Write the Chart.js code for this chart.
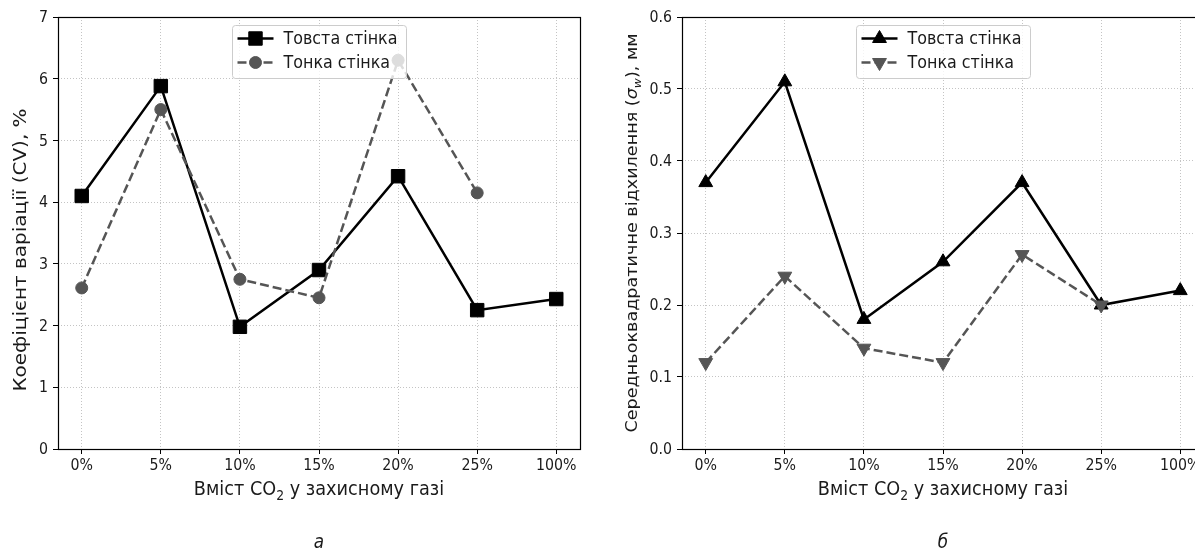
<!DOCTYPE html>
<html>
<head>
<meta charset="utf-8">
<script src="https://cdn.jsdelivr.net/npm/chart.js@4.4.0/dist/chart.umd.min.js"></script>
<style>
  html, body { margin: 0; padding: 0; background: #fff; }
  body { width: 1195px; height: 552px; overflow: hidden; position: relative; }
  #wrapA { position: absolute; left: 0; top: 0; }
  #wrapB { position: absolute; left: 600px; top: 0; }
</style>
</head>
<body>
<div id="wrapA"><canvas id="chartA" width="600" height="552"></canvas></div>
<div id="wrapB"><canvas id="chartB" width="620" height="552"></canvas></div>
<script>
// ---- data ----
const categories = ['0%', '5%', '10%', '15%', '20%', '25%', '100%'];
const seriesNames = ['Товста стінка', 'Тонка стінка'];
const cvThick = [4.1, 5.88, 1.98, 2.9, 4.42, 2.25, 2.43];
const cvThin = [2.61, 5.5, 2.75, 2.45, 6.3, 4.15, null];
const sdThick = [0.37, 0.51, 0.18, 0.26, 0.37, 0.20, 0.22];
const sdThin = [0.12, 0.24, 0.14, 0.12, 0.27, 0.20, null];
const cvTicks = [0, 1, 2, 3, 4, 5, 6, 7];
const sdTicks = [0, 0.1, 0.2, 0.3, 0.4, 0.5, 0.6];

const FONT = '"DejaVu Sans", sans-serif';
const SX = 0.885;          // the source figure is squeezed a bit horizontally
const INK = '#1a1a1a';
const GREY = '#555555';

function fontOf(p, size) {
  const s = p.sub ? size * 0.7 : size;
  return (p.it ? 'italic ' : '') + s.toFixed(1) + 'px ' + FONT;
}

// draws a run of text pieces (plain / italic / subscript), centred on x,y
function drawRich(ctx, parts, x, y, size, rotated) {
  ctx.save();
  ctx.translate(x, y);
  if (rotated) { ctx.rotate(-Math.PI / 2); ctx.scale(1, SX); }
  else ctx.scale(SX, 1);
  ctx.textBaseline = 'middle';
  ctx.textAlign = 'left';
  ctx.fillStyle = INK;
  let total = 0;
  parts.forEach(p => { ctx.font = fontOf(p, size); p.w = ctx.measureText(p.t).width; total += p.w; });
  let cx = -total / 2;
  parts.forEach(p => {
    ctx.font = fontOf(p, size);
    ctx.fillText(p.t, cx, p.sub ? size * 0.3 : 0);
    cx += p.w;
  });
  ctx.restore();
}

function drawLabel(ctx, s, x, y, size, align) {
  ctx.save();
  ctx.translate(x, y);
  ctx.scale(SX, 1);
  ctx.font = size + 'px ' + FONT;
  ctx.fillStyle = INK;
  ctx.textAlign = align;
  ctx.textBaseline = 'middle';
  ctx.fillText(s, 0, 0);
  ctx.restore();
}

const mplLook = {
  id: 'mplLook',
  afterDatasetsDraw(chart, args, o) {
    const { ctx, chartArea: a } = chart;
    const xs = chart.scales.x, ys = chart.scales.y;

    // axes frame
    ctx.save();
    ctx.strokeStyle = '#000';
    ctx.lineWidth = 1.2;
    ctx.strokeRect(Math.round(a.left) + 0.5, Math.round(a.top) + 0.5,
      Math.round(a.right - a.left), Math.round(a.bottom - a.top));
    ctx.restore();

    // tick labels
    xs.ticks.forEach(t => drawLabel(ctx, categories[t.value], xs.getPixelForValue(t.value), a.bottom + 17, 16, 'center'));
    ys.ticks.forEach(t => drawLabel(ctx, o.fmt(t.value), a.left - 10, ys.getPixelForValue(t.value) + 1, 16, 'right'));

    // axis titles and caption
    const midX = (a.left + a.right) / 2;
    drawRich(ctx, [{ t: 'Вміст CO' }, { t: '2', sub: true }, { t: ' у захисному газі' }], midX, 490, 20);
    drawRich(ctx, o.yTitle, a.left - o.yTitleGap, o.yTitleY, o.yTitleSize, true);
    drawRich(ctx, [{ t: o.caption, it: true }], midX, 543, 19);

    // legend, matplotlib style, upper centre
    ctx.save();
    ctx.font = '18px ' + FONT;
    const sets = chart.data.datasets;
    let tw = 0;
    sets.forEach(d => { tw = Math.max(tw, ctx.measureText(d.label).width * SX); });
    const pad = 5, handle = 36, gap = 10;
    const w = pad + handle + gap + tw + 9, h = 53;
    const bx = Math.round(midX - w / 2) + 0.5, by = Math.round(a.top + 8) + 0.5;
    ctx.beginPath();
    ctx.roundRect(bx, by, w, h, 3);
    ctx.fillStyle = 'rgba(255,255,255,0.8)';
    ctx.fill();
    ctx.strokeStyle = '#cccccc';
    ctx.lineWidth = 1;
    ctx.stroke();
    sets.forEach((d, i) => {
      const cy = by + 13 + i * 24;
      const x0 = bx + pad;
      ctx.save();
      ctx.strokeStyle = d.borderColor;
      ctx.lineWidth = d.borderWidth;
      ctx.setLineDash(d.borderDash || []);
      ctx.beginPath();
      ctx.moveTo(x0, cy);
      ctx.lineTo(x0 + handle, cy);
      ctx.stroke();
      ctx.setLineDash([]);
      ctx.fillStyle = d.backgroundColor;
      ctx.lineWidth = 1;
      Chart.helpers.drawPoint(ctx, {
        pointStyle: d.pointStyle, rotation: d.pointRotation || 0,
        radius: d.pointRadius, borderWidth: 1
      }, x0 + handle / 2, cy);
      ctx.restore();
      drawLabel(ctx, d.label, x0 + handle + gap, cy + 1, 18, 'left');
    });
    ctx.restore();
  }
};

function points(values) {
  return values.map((v, i) => ({ x: i, y: v }));
}

function makeChart(id, thick, thin, ticks, styles, look, rightPad) {
  const dsThick = {
    label: seriesNames[0], data: points(thick), order: 1,
    borderColor: '#000', backgroundColor: '#000', borderWidth: 2.5,
    pointStyle: styles[0], pointRadius: styles[1], pointRotation: 0, pointBorderWidth: 1
  };
  const dsThin = {
    label: seriesNames[1], data: points(thin), order: 0,
    borderColor: GREY, backgroundColor: GREY, borderWidth: 2.5, borderDash: [9, 4],
    pointStyle: styles[2], pointRadius: styles[3], pointRotation: styles[4], pointBorderWidth: 1
  };
  return new Chart(document.getElementById(id), {
    type: 'line',
    data: { datasets: [dsThick, dsThin] },
    options: {
      responsive: false,
      animation: false,
      events: [],
      layout: { padding: { top: 17, right: rightPad, left: 0, bottom: 0 } },
      plugins: { legend: { display: false }, tooltip: { enabled: false }, mplLook: look },
      scales: {
        x: {
          type: 'linear', min: -0.3, max: 6.3,
          afterBuildTicks: s => { s.ticks = categories.map((c, i) => ({ value: i })); },
          afterFit: s => { s.height = 103; },
          ticks: { display: false },
          grid: { color: '#b5b5b5', lineWidth: 0.8, tickColor: '#000', tickLength: 5, tickWidth: 1 },
          border: { display: false, dash: [1, 2] }
        },
        y: {
          min: ticks[0], max: ticks[ticks.length - 1],
          afterBuildTicks: s => { s.ticks = ticks.map(v => ({ value: v })); },
          afterFit: s => { s.width = look.axisLeft; },
          ticks: { display: false },
          grid: { color: '#b5b5b5', lineWidth: 0.8, tickColor: '#000', tickLength: 5, tickWidth: 1 },
          border: { display: false, dash: [1, 2] }
        }
      }
    },
    plugins: [mplLook]
  });
}

makeChart('chartA', cvThick, cvThin, cvTicks, ['rect', 9.5, 'circle', 6, 0], {
  axisLeft: 58, yTitleGap: 37, yTitleY: 250, yTitleSize: 20, caption: 'а',
  fmt: v => String(v),
  yTitle: [{ t: 'Коефіцієнт варіації (CV), %' }]
}, 20);

makeChart('chartB', sdThick, sdThin, sdTicks, ['triangle', 8, 'triangle', 8, 180], {
  axisLeft: 82, yTitleGap: 49, yTitleY: 233, yTitleSize: 17.6, caption: 'б',
  fmt: v => v.toFixed(1),
  yTitle: [{ t: 'Середньоквадратичне відхилення (' }, { t: 'σ', it: true }, { t: 'w', it: true, sub: true }, { t: '), мм' }]
}, 16);
</script>
</body>
</html>
